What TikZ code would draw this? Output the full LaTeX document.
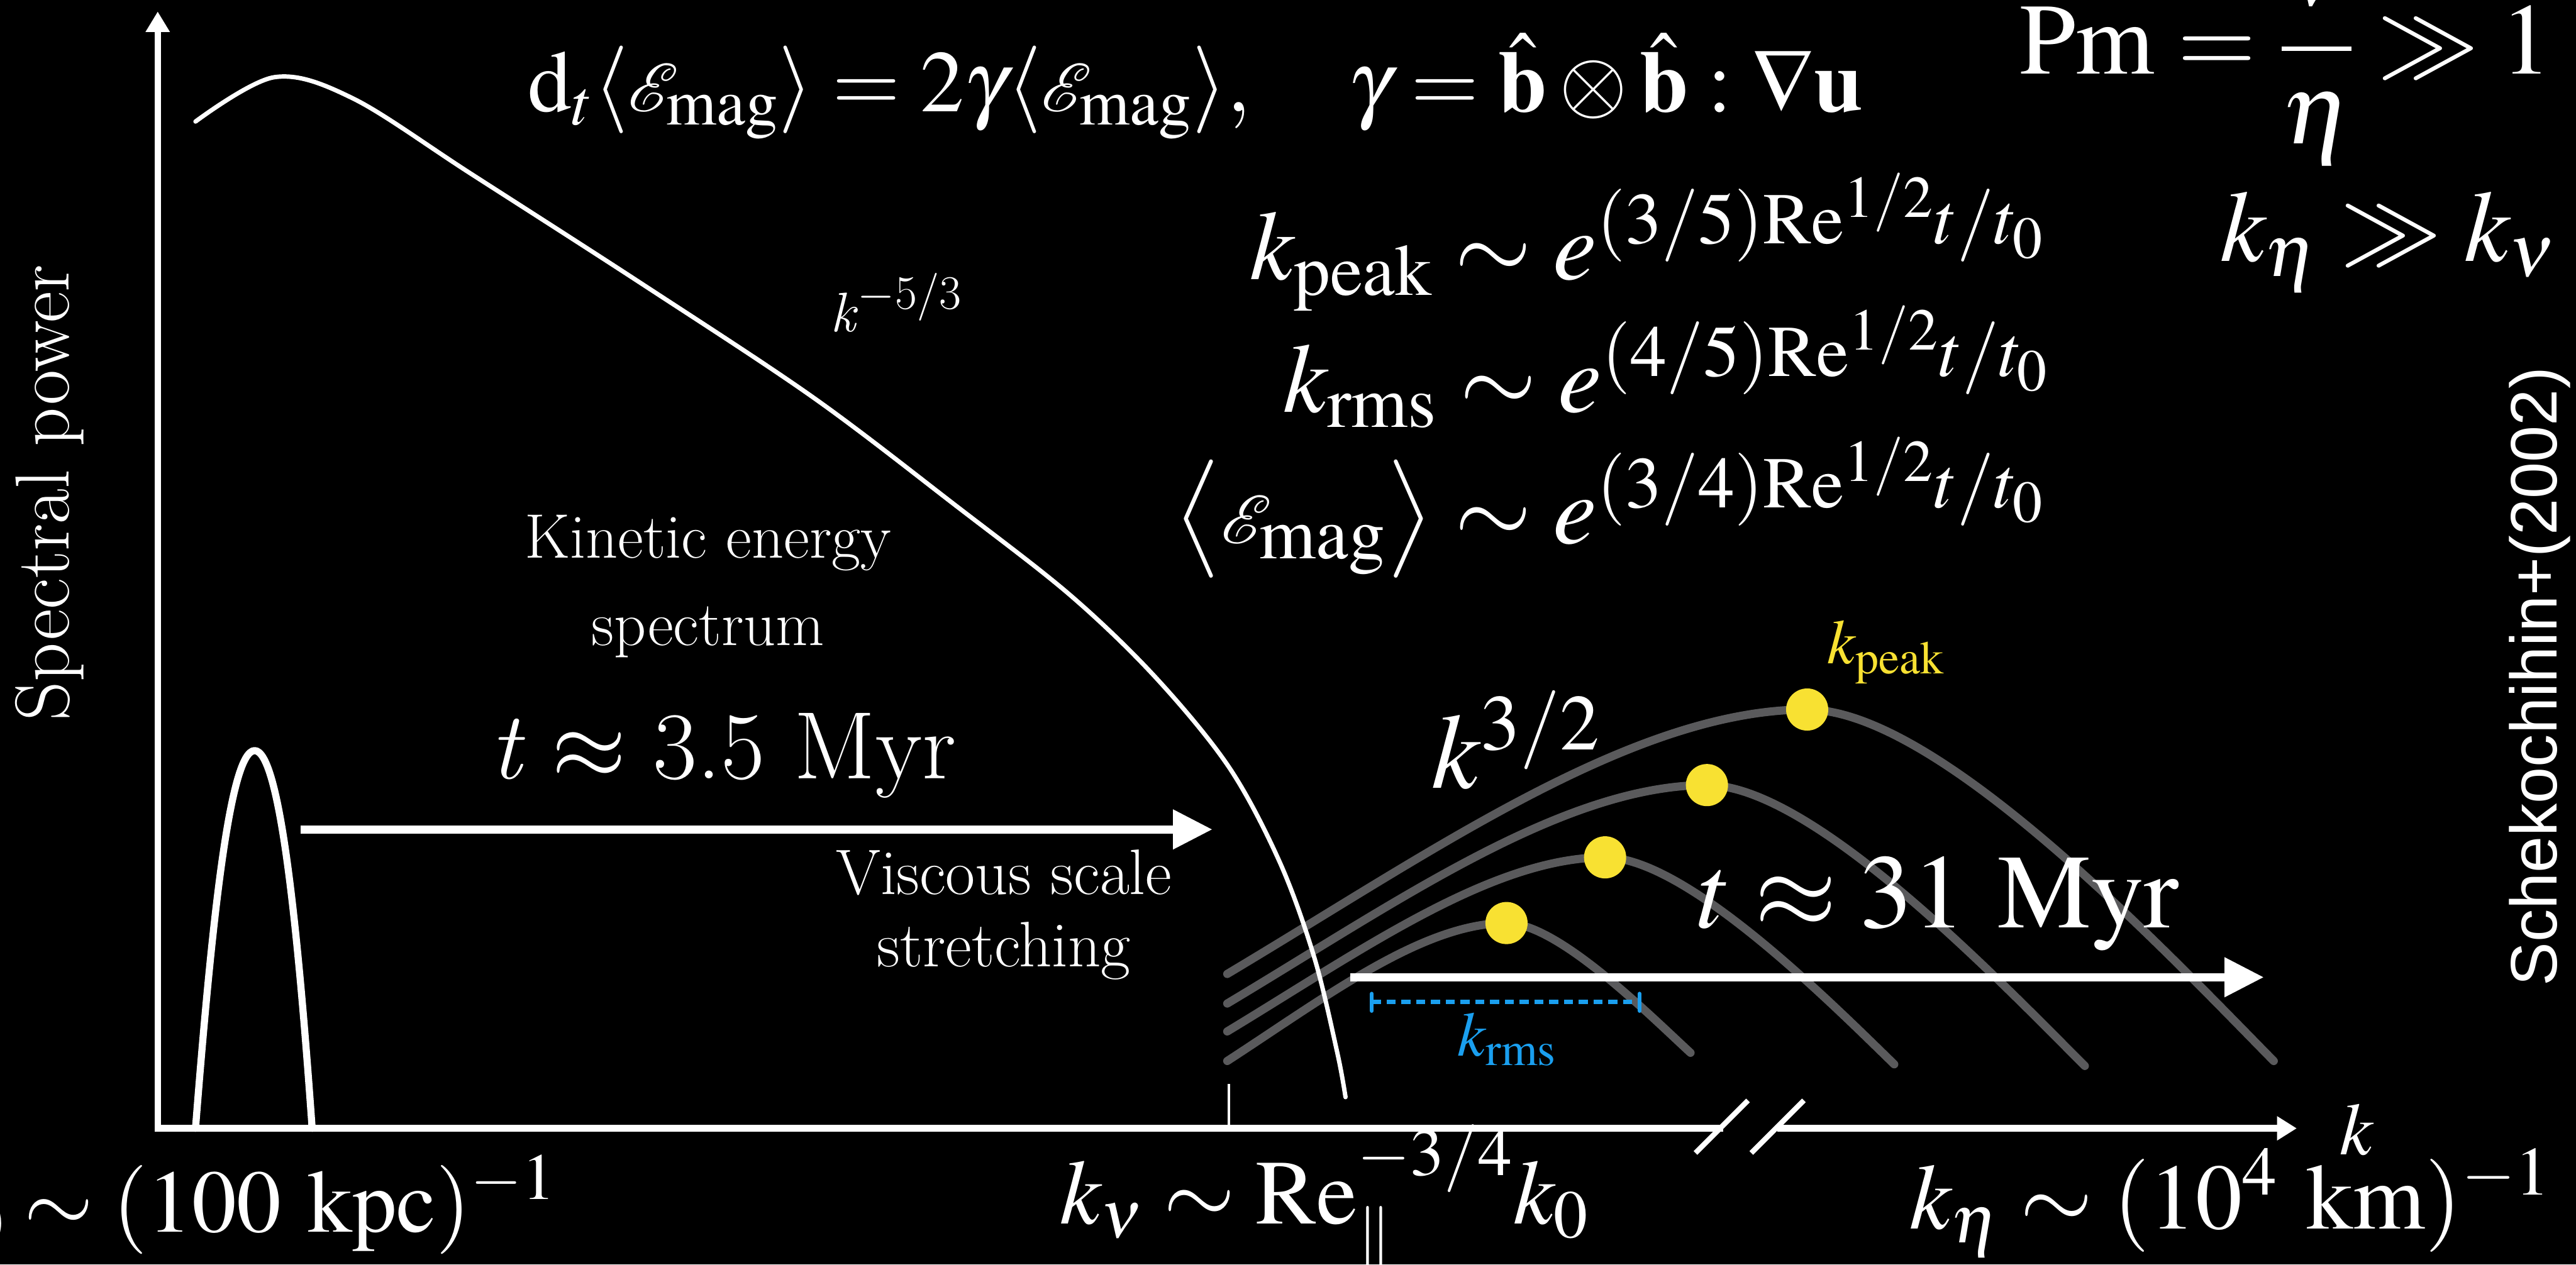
\documentclass[tikz,border=0pt]{standalone}
\usepackage[no-math]{fontspec}
\usepackage{mathptmx}
\usepackage{mathrsfs}
\renewcommand{\rmdefault}{lmr}
\newfontfamily\citefont{Liberation Sans}
\usetikzlibrary{arrows.meta}
\definecolor{dynYellow}{HTML}{F8E132}
\definecolor{dynBlue}{HTML}{1A9FEF}
\definecolor{dynGrey}{HTML}{5A5A5C}

\begin{document}
\begin{tikzpicture}[x=0.6pt,y=-0.6pt,>=Latex,line cap=round,line join=round]
\useasboundingbox (0,0) rectangle (1568,770);
\path[fill=black] (0,0) rectangle (1568,770);
\clip (0,0) rectangle (1568,770);
\tikzset{kaxis/.style={draw=white,line width=2.4pt,line cap=butt},kspec/.style={draw=white,line width=1.6pt},seed/.style={draw=white,line width=2.6pt},magarc/.style={draw=dynGrey,line width=3pt},stretcharrow/.style={draw=white,line width=3pt,line cap=butt,-{Triangle[length=14.4pt,width=13.8pt]}},peakdot/.style={circle,fill=dynYellow,inner sep=0pt,minimum size=15.4pt},lbl/.style={text=white,inner sep=0pt}}
% axes
\draw[kaxis,-{Triangle[length=7.5pt,width=8.4pt]}] (96,689) -- (96,7);
\draw[kaxis] (95,687) -- (1049,687);
\draw[kaxis,-{Triangle[length=7.2pt,width=8.4pt]}] (1082,687) -- (1398,687);
\draw[white,line width=1.9pt,line cap=butt] (1032,702) -- (1064,670);
\draw[white,line width=1.9pt,line cap=butt] (1066,702) -- (1098,670);
\draw[white,line width=1.1pt,line cap=butt] (748,660) -- (748,687);
% magnetic spectra
\draw[magarc] (747,646) .. controls (807,607) and (866,562) .. (917,562) .. controls (948,562) and (1003,617) .. (1029,641);
\draw[magarc] (747,628) .. controls (828,579) and (908,522) .. (977,522) .. controls (1026,522) and (1113,609) .. (1153,648);
\draw[magarc] (747,611) .. controls (849,550) and (951,478) .. (1039,478) .. controls (1103,478) and (1216,596) .. (1269,649);
\draw[magarc] (747,593) .. controls (871,519) and (994,432) .. (1100,432) .. controls (1180,432) and (1319,580) .. (1384,646);
\node[peakdot] (pk1) at (917,562) {};
\node[peakdot] (pk2) at (977,522) {};
\node[peakdot] (pk3) at (1039,478) {};
\node[peakdot] (pk4) at (1100,432) {};
% kinetic spectrum and seed field
\draw[kspec] plot[smooth,tension=0.55] coordinates {(119,74) (167,47) (215,60) (287,106) (391,173) (495,242) (582,308) (651,362) (703,412) (748,467) (779,525) (800,583) (814,641) (819,668)};
\draw[seed] (119,687) .. controls (129,560) and (140,457) .. (155,457) .. controls (170,457) and (181,560) .. (190,687);
% shifts
\coordinate (vstart) at (183,505);
\coordinate (vend) at (738,505);
\coordinate (rstart) at (822,595);
\coordinate (rend) at (1378,595);
\draw[stretcharrow] (vstart) -- (vend);
\draw[stretcharrow] (rstart) -- (rend);
\coordinate (rmsa) at (835,610);
\coordinate (rmsb) at (998,610);
\draw[dynBlue,line width=1.5pt,line cap=butt,dash pattern=on 3.3pt off 2.1pt] (rmsa) -- (rmsb);
\draw[dynBlue,line width=1.4pt] ([yshift=3pt]rmsa) -- ([yshift=-3.3pt]rmsa);
\draw[dynBlue,line width=1.4pt] ([yshift=3pt]rmsb) -- ([yshift=-3.3pt]rmsb);
% labels
\node[lbl,anchor=base west,font=\fontsize{32}{38}\selectfont] (growth) at (321,68) {$\mathrm{d}_t\langle\mathscr{E}_{\mathrm{mag}}\rangle=2\gamma\langle\mathscr{E}_{\mathrm{mag}}\rangle,\quad\gamma=\hat{\mathbf{b}}\otimes\hat{\mathbf{b}}:\nabla\mathbf{u}$};
\node[lbl,anchor=base west,font=\fontsize{37}{44}\selectfont] (pmlaw) at (1229,45) {$\mathrm{Pm}=\displaystyle\frac{\nu}{\eta}\gg1$};
\node[lbl,anchor=base west,font=\fontsize{37}{44}\selectfont] (kratio) at (1351,159) {$k_\eta\gg k_\nu$};
\node[lbl,anchor=base east,font=\fontsize{36}{43}\selectfont] (kpeaklaw) at (1245,170) {$k_{\mathrm{peak}}\sim e^{(3/5)\mathrm{Re}^{1/2}t/t_0}$};
\node[lbl,anchor=base east,font=\fontsize{36}{43}\selectfont] (krmslaw) at (1248,251) {$k_{\mathrm{rms}}\sim e^{(4/5)\mathrm{Re}^{1/2}t/t_0}$};
\node[lbl,anchor=base east,font=\fontsize{36}{43}\selectfont] (emaglaw) at (1245,331) {$\bigl\langle\mathscr{E}_{\mathrm{mag}}\bigr\rangle\sim e^{(3/4)\mathrm{Re}^{1/2}t/t_0}$};
\node[lbl,anchor=base west,font=\fontsize{20.4}{24}\selectfont] (kolmo) at (505,202) {\itshape k\/\upshape\raisebox{0.41em}{\fontsize{17.5}{20}\selectfont$-$5/3}};
\node[lbl,align=center,font=\fontsize{23}{32}\selectfont] (kinlabel) at (431,357) {Kinetic energy\\spectrum};
\node[lbl,anchor=base west,font=\fontsize{35}{42}\selectfont] (tshort) at (298,474) {\textit{t}\hspace{.28em}$\approx$\hspace{.28em}3.5 Myr};
\node[lbl,align=center,font=\fontsize{23.5}{26.5}\selectfont] (visclabel) at (611,557) {Viscous scale\\stretching};
\node[lbl,anchor=base west,font=\fontsize{39}{46}\selectfont] (law32) at (871,480) {$k^{3/2}$};
\node[lbl,anchor=base west,font=\fontsize{38.5}{46}\selectfont] (tlong) at (1033,565) {$t\approx31\ \mathrm{Myr}$};
\node[lbl,text=dynYellow,anchor=base west,font=\fontsize{23}{27}\selectfont] (kpeaklbl) at (1112,404) {$k_{\mathrm{peak}}$};
\node[lbl,text=dynBlue,anchor=base west,font=\fontsize{23}{27}\selectfont] (krmslbl) at (887,643) {$k_{\mathrm{rms}}$};
\node[lbl,rotate=90,font=\fontsize{28}{33}\selectfont] (ylabel) at (30,300) {Spectral power};
\node[lbl,rotate=90,font=\citefont\fontsize{24}{29}\selectfont] (cite) at (1546,412) {Schekochihin+(2002)};
\node[lbl,anchor=base east,font=\fontsize{32.5}{39}\selectfont] (kzero) at (339,750) {$k_0\sim(100\ \mathrm{kpc})^{-1}$};
\node[lbl,anchor=base west,font=\fontsize{33.5}{40}\selectfont] (knu) at (645,745) {$k_\nu\sim\mathrm{Re}_\parallel^{-3/4}k_0$};
\node[lbl,anchor=base west,font=\fontsize{34}{41}\selectfont] (keta) at (1162,748) {$k_\eta\sim(10^4\ \mathrm{km})^{-1}$};
\node[lbl,anchor=base west,font=\fontsize{27}{32}\selectfont] (klabel) at (1424,703) {$k$};
\end{tikzpicture}
\end{document}
